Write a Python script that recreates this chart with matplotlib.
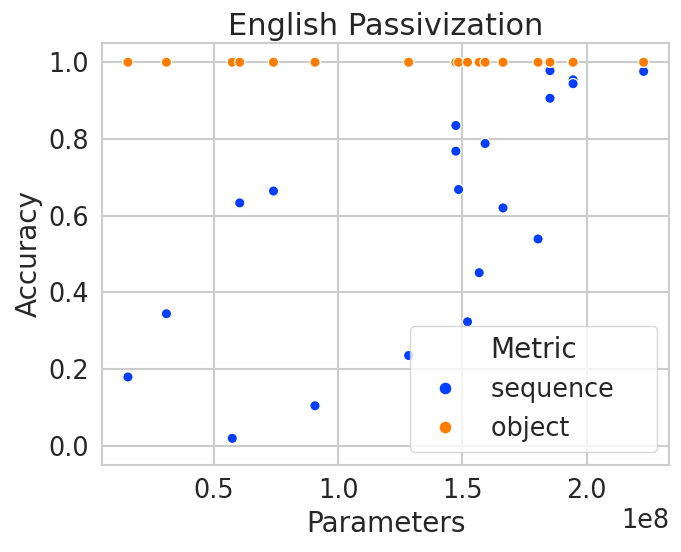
import numpy as np
import pandas as pd
import seaborn as sns
import matplotlib
matplotlib.use("Agg")
import matplotlib.pyplot as plt

# parameter counts of the models
params = [15.4e6, 30.9e6, 57.4e6, 60.4e6, 74.0e6, 90.7e6, 128.4e6,
          147.4e6, 147.4e6, 148.5e6, 152.1e6, 156.8e6, 159.2e6, 166.4e6,
          180.5e6, 185.3e6, 185.3e6, 194.6e6, 194.6e6, 223.0e6]

# sequence accuracy per model
seq_acc = [0.179, 0.344, 0.019, 0.633, 0.664, 0.104, 0.235,
           0.835, 0.768, 0.668, 0.323, 0.451, 0.788, 0.620,
           0.539, 0.978, 0.906, 0.954, 0.944, 0.976]

# object accuracy per model
obj_acc = [1.0] * len(params)

metric_names = ["sequence", "object"]

df = pd.DataFrame({
    "Parameters": params + params,
    "Accuracy": seq_acc + obj_acc,
    "Metric": [metric_names[0]] * len(params) + [metric_names[1]] * len(params),
})

sns.set_theme(style="whitegrid", palette="bright", font_scale=1.67,
              rc={"grid.linewidth": 1.5, "axes.linewidth": 1.5})

fig, ax = plt.subplots(figsize=(6.81, 5.52), dpi=100)
sns.scatterplot(data=df, x="Parameters", y="Accuracy", hue="Metric", ax=ax,
                s=55, linewidth=0.9, edgecolor="white")
ax.set_title("English Passivization", fontsize=22)
ax.set_ylim(-0.05, 1.05)

# legend: same handles, a bit of room on the right like the original
handles, labels = ax.get_legend_handles_labels()
ax.legend(handles, [l + "    " for l in labels], loc="lower right",
          title="Metric", markerscale=1.25)

plt.subplots_adjust(left=0.150, right=0.983, top=0.922, bottom=0.158)
plt.savefig("out.png", dpi=100)
